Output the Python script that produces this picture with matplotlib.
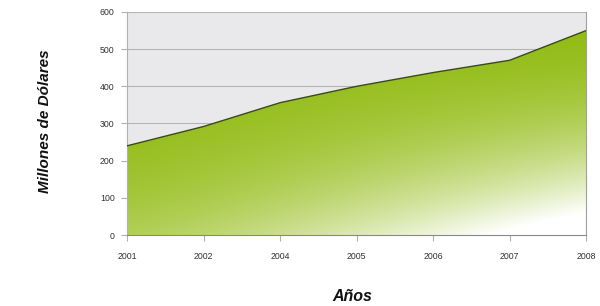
import matplotlib
matplotlib.use("Agg")
import matplotlib.pyplot as plt
import numpy as np
from matplotlib.colors import to_rgb

# Data
years = ["2001", "2002", "2004", "2005", "2006", "2007", "2008"]
valores = [240, 292, 356, 400, 437, 470, 550]
y_ticks = [0, 100, 200, 300, 400, 500, 600]

plt.rcParams['font.family'] = ['Liberation Sans', 'DejaVu Sans']

fig = plt.figure(figsize=(6, 3.06), dpi=100)
ax = fig.add_axes([0.212, 0.232, 0.765, 0.729])

x = np.arange(len(years))
ax.set_xlim(x[0], x[-1])
ax.set_ylim(0, 600)
ax.set_facecolor('#e9e9ec')

# grid lines
for yv in y_ticks[1:]:
    ax.axhline(yv, color='#b4b4b4', lw=0.8, zorder=1)

# gradient fill: green top-left fading to white bottom-right
green = np.array(to_rgb('#91bb12'))
nx, ny = 400, 300
gx = np.linspace(0, 1, nx)
gy = np.linspace(0, 1, ny)
GX, GY = np.meshgrid(gx, gy)
w = np.clip(0.95 * GX ** 1.3 * (1 - GY) ** 1.8 + 0.3 * (1 - GY) ** 3, 0, 1)
img = green[None, None, :] * (1 - w[..., None]) + np.ones(3)[None, None, :] * w[..., None]
im = ax.imshow(img, extent=[x[0], x[-1], 0, 600], origin='lower',
               aspect='auto', zorder=2, interpolation='bilinear')
clip = plt.Polygon(list(zip([x[0]] + list(x) + [x[-1]], [0] + valores + [0])),
                   transform=ax.transData)
im.set_clip_path(clip)
ax.plot(x, valores, color='#3b4a1a', lw=1.0, zorder=3)

ax.set_xticks(x)
ax.set_xticklabels(years)
ax.set_yticks(y_ticks)
ax.tick_params(labelsize=6.3, length=4, width=0.8)
ax.tick_params(axis='x', pad=8, colors='#b0b0b0', labelcolor='#333333')
ax.tick_params(axis='y', pad=5, colors='#b0b0b0', labelcolor='#333333')

ax.spines['top'].set_visible(False)
ax.spines['left'].set_color('#b0b0b0')
ax.spines['right'].set_color('#a0a0a0')
ax.spines['bottom'].set_color('#888888')
ax.spines['bottom'].set_zorder(4)

fig.text(0.075, 0.605, 'Millones de Dólares', rotation=90, ha='center', va='center',
         fontsize=11, fontweight='bold', fontstyle='italic', color='#111111')
fig.text(0.587, 0.03, 'Años', ha='center', va='center',
         fontsize=11.5, fontweight='bold', fontstyle='italic', color='#111111')

fig.savefig('out.png', dpi=100, facecolor='white')
